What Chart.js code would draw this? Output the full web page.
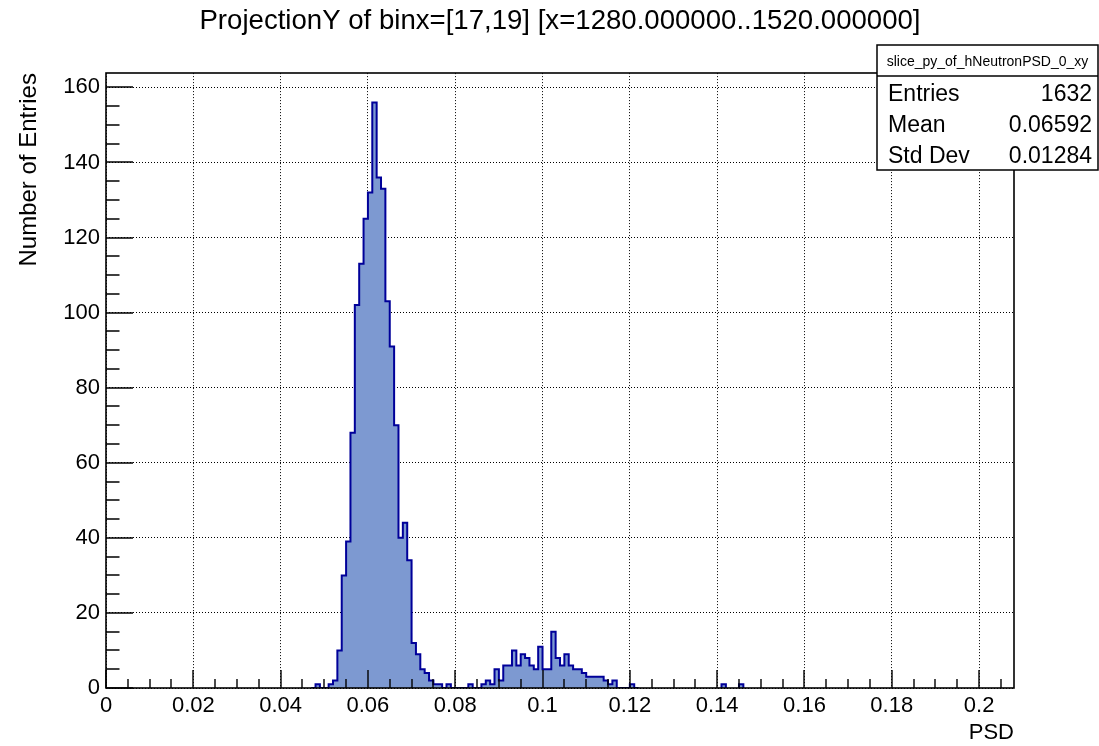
<!DOCTYPE html>
<html>
<head>
<meta charset="utf-8">
<title>ProjectionY of binx=[17,19]</title>
<script src="https://cdn.jsdelivr.net/npm/chart.js@4.4.0/dist/chart.umd.min.js"></script>
<style>
  html, body { margin: 0; padding: 0; background: #fff; }
</style>
</head>
<body>
<canvas id="psdChart" width="1099" height="746"></canvas>
<script>
const plotTitle = 'ProjectionY of binx=[17,19] [x=1280.000000..1520.000000]';
const histName = 'slice_py_of_hNeutronPSD_0_xy';
const statLabels = ['Entries', 'Mean', 'Std Dev'];
const statValues = ['1632', '0.06592', '0.01284'];

// histogram bins, 0.001 wide, main region starts at 0.047
const binWidth = 0.001;
const firstBinLow = 0.047;
const binCounts = [
    0, 1, 0, 0, 1, 2, 10, 30, 39, 68,
    102, 113, 125, 132, 156, 136, 133, 103, 91, 70,
    40, 44, 34, 12, 9, 5, 4, 2, 1, 1,
    0, 1, 0, 0, 0, 0, 1, 0, 0, 1,
    2, 1, 5, 2, 6, 6, 10, 6, 9, 8,
    6, 5, 11, 5, 5, 15, 8, 6, 9, 6,
    5, 5, 4, 3, 3, 3, 3, 2, 1, 2,
    0, 0, 0, 1, 0
];
const tailBinLow = [0.141, 0.145];
const tailBinCounts = [1, 1];

const xMax = 0.208;
const yMax = 163.8;
const xTickValues = [0, 0.02, 0.04, 0.06, 0.08, 0.1, 0.12, 0.14, 0.16, 0.18, 0.2];
const xTickLabels = ['0', '0.02', '0.04', '0.06', '0.08', '0.1', '0.12', '0.14', '0.16', '0.18', '0.2'];
const yTickValues = [0, 20, 40, 60, 80, 100, 120, 140, 160];
const yTickLabels = ['0', '20', '40', '60', '80', '100', '120', '140', '160'];

const fontFamily = "'Liberation Sans', Arial, Helvetica, sans-serif";

function stepPoints(lows, counts) {
    const pts = [{ x: lows[0], y: 0 }];
    lows.forEach((low, i) => {
        pts.push({ x: low, y: counts[i] });
        pts.push({ x: low + binWidth, y: counts[i] });
    });
    pts.push({ x: lows[lows.length - 1] + binWidth, y: 0 });
    return pts;
}

const mainLows = binCounts.map((c, i) => firstBinLow + i * binWidth);
const groups = [stepPoints(mainLows, binCounts)];
tailBinLow.forEach((low, i) => groups.push(stepPoints([low], [tailBinCounts[i]])));

const datasets = groups.map(pts => ({
    data: pts,
    borderColor: '#000099',
    borderWidth: 2,
    backgroundColor: '#7d99d1',
    fill: 'origin',
    pointRadius: 0,
    tension: 0,
    borderJoinStyle: 'miter'
}));

// ROOT style frame with inward ticks
const rootFrame = {
    id: 'rootFrame',
    afterDatasetsDraw(chart) {
        const { ctx, chartArea, scales } = chart;
        const x = scales.x, y = scales.y;
        const left = Math.round(chartArea.left), right = Math.round(chartArea.right);
        const top = Math.round(chartArea.top), bottom = Math.round(chartArea.bottom);
        ctx.save();
        ctx.strokeStyle = '#000';
        ctx.lineWidth = 1.6;
        ctx.strokeRect(left, top, right - left, bottom - top);

        ctx.lineWidth = 1.4;
        ctx.beginPath();
        for (let k = 0; k * 0.005 <= xMax + 1e-9; k++) {
            const px = Math.round(x.getPixelForValue(k * 0.005));
            const len = k % 4 === 0 ? 18 : 9;
            ctx.moveTo(px, bottom);
            ctx.lineTo(px, bottom - len);
        }
        for (let k = 0; k * 5 <= yMax; k++) {
            const py = Math.round(y.getPixelForValue(k * 5));
            const len = k % 4 === 0 ? 27 : 13.5;
            ctx.moveTo(left, py);
            ctx.lineTo(left + len, py);
        }
        ctx.stroke();
        ctx.restore();
    },
    afterDraw(chart) {
        const { ctx } = chart;
        const bx = 877, by = 45, bw = 221, bh = 125, hh = 31;
        ctx.save();
        ctx.fillStyle = '#fff';
        ctx.fillRect(bx, by, bw, bh);
        ctx.strokeStyle = '#000';
        ctx.lineWidth = 1.5;
        ctx.strokeRect(bx, by, bw, bh);
        ctx.beginPath();
        ctx.moveTo(bx, by + hh);
        ctx.lineTo(bx + bw, by + hh);
        ctx.stroke();

        ctx.fillStyle = '#000';
        ctx.textBaseline = 'alphabetic';
        ctx.font = '14px ' + fontFamily;
        ctx.textAlign = 'center';
        ctx.fillText(histName, bx + bw / 2, by + 21);

        ctx.font = '23px ' + fontFamily;
        statLabels.forEach((label, i) => {
            const base = by + hh + 25 + i * 31;
            ctx.textAlign = 'left';
            ctx.fillText(label, bx + 11, base);
            ctx.textAlign = 'right';
            ctx.fillText(statValues[i], bx + bw - 6, base);
        });
        ctx.restore();
    }
};

const ctx = document.getElementById('psdChart').getContext('2d');
const psdChart = new Chart(ctx, {
    type: 'line',
    data: { datasets: datasets },
    plugins: [rootFrame],
    options: {
        responsive: false,
        devicePixelRatio: 1,
        animation: false,
        layout: { padding: { left: 0, right: 85, top: 0, bottom: 0 } },
        plugins: {
            legend: { display: false },
            tooltip: { enabled: false },
            title: {
                display: true,
                text: plotTitle,
                fullSize: false,
                color: '#000',
                font: { family: fontFamily, size: 27.6, weight: 'normal' },
                padding: { top: 5, bottom: 35 }
            }
        },
        scales: {
            x: {
                type: 'linear',
                min: 0,
                max: xMax,
                afterBuildTicks: axis => { axis.ticks = xTickValues.map(v => ({ value: v })); },
                afterFit: scale => { scale.height = 58; },
                ticks: {
                    autoSkip: false,
                    maxRotation: 0,
                    color: '#000',
                    padding: 5,
                    font: { family: fontFamily, size: 22 },
                    callback: (value, index) => xTickLabels[index]
                },
                grid: { color: '#000', lineWidth: 1, drawTicks: false },
                border: { display: false, dash: [1, 2] },
                title: {
                    display: true,
                    text: 'PSD',
                    align: 'end',
                    color: '#000',
                    font: { family: fontFamily, size: 22 },
                    padding: { top: 0, bottom: 0 }
                }
            },
            y: {
                type: 'linear',
                min: 0,
                max: yMax,
                afterBuildTicks: axis => { axis.ticks = yTickValues.map(v => ({ value: v })); },
                afterFit: scale => { scale.width = 106; },
                ticks: {
                    autoSkip: false,
                    color: '#000',
                    padding: 6,
                    font: { family: fontFamily, size: 22 },
                    callback: (value, index) => yTickLabels[index]
                },
                grid: { color: '#000', lineWidth: 1, drawTicks: false },
                border: { display: false, dash: [1, 2] },
                title: {
                    display: true,
                    text: 'Number of Entries',
                    align: 'end',
                    color: '#000',
                    font: { family: fontFamily, size: 24 },
                    padding: { top: 15, bottom: 0 }
                }
            }
        }
    }
});
</script>
</body>
</html>
